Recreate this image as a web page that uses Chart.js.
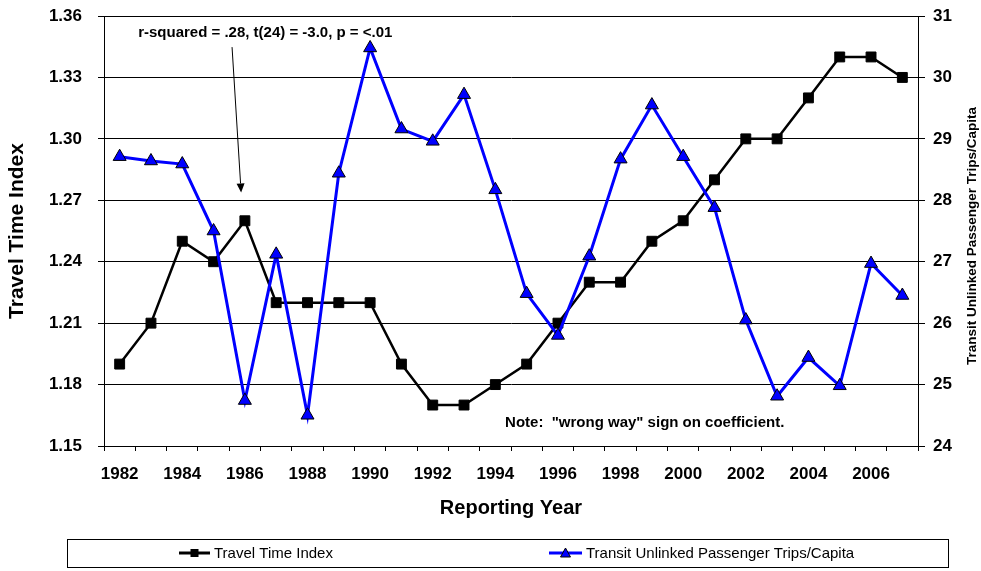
<!DOCTYPE html>
<html>
<head>
<meta charset="utf-8">
<script src="https://cdn.jsdelivr.net/npm/chart.js@4"></script>
<style>
  html, body { margin: 0; padding: 0; background: #fff; }
  #wrap { width: 981px; height: 571px; }
</style>
</head>
<body>
<div id="wrap"><canvas id="chart" width="981" height="571"></canvas></div>
<script>
// --- data ---
const years = [1982, 1983, 1984, 1985, 1986, 1987, 1988, 1989, 1990, 1991, 1992, 1993, 1994,
               1995, 1996, 1997, 1998, 1999, 2000, 2001, 2002, 2003, 2004, 2005, 2006, 2007];
const travelTimeIndex = [1.19, 1.21, 1.25, 1.24, 1.26, 1.22, 1.22, 1.22, 1.22, 1.19, 1.17, 1.17, 1.18,
                         1.19, 1.21, 1.23, 1.23, 1.25, 1.26, 1.28, 1.30, 1.30, 1.32, 1.34, 1.34, 1.33];
const transitTrips = [28.71, 28.64, 28.59, 27.50, 24.74, 27.12, 24.50, 28.44, 30.48, 29.16, 28.96, 29.72, 28.17,
                      26.48, 25.80, 27.09, 28.67, 29.55, 28.71, 27.88, 26.05, 24.81, 25.44, 24.98, 26.97, 26.45];
const leftTicks = [1.15, 1.18, 1.21, 1.24, 1.27, 1.30, 1.33, 1.36];
const rightTicks = [24, 25, 26, 27, 28, 29, 30, 31];

const seriesNames = ['Travel Time Index', 'Transit Unlinked Passenger Trips/Capita'];
const leftTitle = 'Travel Time Index';
const rightTitle = 'Transit Unlinked Passenger Trips/Capita';
const xTitle = 'Reporting Year';
const statText = 'r-squared = .28, t(24) = -3.0, p = <.01';
const noteText = 'Note:  "wrong way" sign on coefficient.';

// --- fonts ---
const FONT = 'Arial, "Liberation Sans", sans-serif';
Chart.defaults.font.family = FONT;
Chart.defaults.color = '#000';

// --- annotations: text + arrow, placed in axis units (x = category index, y = left axis) ---
const notes = {
  stat: { x: 0.59, y: 1.352 },
  arrowFrom: { x: 3.59, y: 1.3448 },
  arrowTo: { x: 3.88, y: 1.2738 },
  note: { x: 12.31, y: 1.1614 }
};

const annotationPlugin = {
  id: 'annotations',
  afterDatasetsDraw(chart) {
    const { ctx, scales: { x, y } } = chart;
    ctx.save();
    ctx.fillStyle = '#000';
    ctx.strokeStyle = '#000';
    ctx.font = 'bold 15px ' + FONT;
    ctx.textBaseline = 'middle';
    ctx.textAlign = 'left';
    ctx.fillText(statText, x.getPixelForValue(notes.stat.x), y.getPixelForValue(notes.stat.y));
    ctx.fillText(noteText, x.getPixelForValue(notes.note.x), y.getPixelForValue(notes.note.y));

    // arrow
    const x0 = x.getPixelForValue(notes.arrowFrom.x), y0 = y.getPixelForValue(notes.arrowFrom.y);
    const x1 = x.getPixelForValue(notes.arrowTo.x), y1 = y.getPixelForValue(notes.arrowTo.y);
    const ang = Math.atan2(y1 - y0, x1 - x0);
    const head = 9, half = 4;
    const bx = x1 - Math.cos(ang) * head, by = y1 - Math.sin(ang) * head;
    ctx.lineWidth = 1;
    ctx.beginPath();
    ctx.moveTo(x0, y0);
    ctx.lineTo(bx, by);
    ctx.stroke();
    ctx.beginPath();
    ctx.moveTo(x1, y1);
    ctx.lineTo(bx + Math.sin(ang) * half, by - Math.cos(ang) * half);
    ctx.lineTo(bx - Math.sin(ang) * half, by + Math.cos(ang) * half);
    ctx.closePath();
    ctx.fill();
    ctx.restore();
  }
};

// --- right axis title reads bottom to top, so draw it by hand ---
const rightTitlePlugin = {
  id: 'rightTitle',
  afterDraw(chart) {
    const { ctx, chartArea } = chart;
    ctx.save();
    ctx.translate(chartArea.right + 54, (chartArea.top + chartArea.bottom) / 2 + 5);
    ctx.rotate(-Math.PI / 2);
    ctx.font = 'bold 13.5px ' + FONT;
    ctx.fillStyle = '#000';
    ctx.textAlign = 'center';
    ctx.textBaseline = 'middle';
    ctx.fillText(rightTitle, 0, 0);
    ctx.restore();
  }
};

// --- boxed legend under the axis title ---
const legendBox = { left: 67, top: 539, width: 881, height: 28 };
const legendItems = [
  { lineFrom: 112, lineTo: 143, textAt: 147 },
  { lineFrom: 482, lineTo: 515, textAt: 519 }
];

const boxLegendPlugin = {
  id: 'boxLegend',
  afterDraw(chart) {
    const { ctx } = chart;
    const b = legendBox;
    ctx.save();
    ctx.strokeStyle = '#000';
    ctx.lineWidth = 1;
    ctx.strokeRect(b.left + 0.5, b.top + 0.5, b.width, b.height);
    const cy = b.top + b.height / 2;
    chart.data.datasets.forEach((ds, i) => {
      const it = legendItems[i];
      const x0 = b.left + it.lineFrom, x1 = b.left + it.lineTo, xm = (x0 + x1) / 2;
      ctx.strokeStyle = ds.borderColor;
      ctx.lineWidth = 3;
      ctx.beginPath();
      ctx.moveTo(x0, cy);
      ctx.lineTo(x1, cy);
      ctx.stroke();
      ctx.fillStyle = ds.pointBackgroundColor;
      ctx.strokeStyle = ds.pointBorderColor;
      ctx.lineWidth = 1;
      if (ds.pointStyle === 'rect') {
        ctx.fillRect(xm - 4, cy - 4, 8, 8);
      } else {
        ctx.beginPath();
        ctx.moveTo(xm, cy - 5);
        ctx.lineTo(xm + 5, cy + 4);
        ctx.lineTo(xm - 5, cy + 4);
        ctx.closePath();
        ctx.fill();
        ctx.stroke();
      }
      ctx.fillStyle = '#000';
      ctx.font = '15px ' + FONT;
      ctx.textAlign = 'left';
      ctx.textBaseline = 'middle';
      ctx.fillText(ds.label, b.left + it.textAt, cy + 1);
    });
    ctx.restore();
  }
};

// y axes: fixed width, and no extra top/bottom reserve for the end labels
function fixYAxis(width) {
  return (s) => {
    s.width = width;
    s.paddingTop = 0;
    s.paddingBottom = 0;
  };
}

// --- chart ---
new Chart(document.getElementById('chart'), {
  type: 'line',
  data: {
    labels: years.map(String),
    datasets: [
      {
        label: seriesNames[0],
        data: travelTimeIndex,
        yAxisID: 'y',
        borderColor: '#000',
        borderWidth: 2.5,
        pointStyle: 'rect',
        pointRadius: 7,
        pointBackgroundColor: '#000',
        pointBorderColor: '#000',
        pointBorderWidth: 1,
        tension: 0,
        order: 1
      },
      {
        label: seriesNames[1],
        data: transitTrips,
        yAxisID: 'y1',
        borderColor: '#0000ff',
        borderWidth: 3,
        pointStyle: 'triangle',
        pointRadius: 7.5,
        pointBackgroundColor: '#0000ff',
        pointBorderColor: '#000',
        pointBorderWidth: 1,
        tension: 0,
        order: 0
      }
    ]
  },
  options: {
    responsive: false,
    animation: false,
    events: [],
    layout: { padding: { top: 16, left: 0, right: 0, bottom: 50 } },
    plugins: { legend: { display: false }, tooltip: { enabled: false } },
    scales: {
      x: {
        type: 'category',
        offset: true,
        grid: { offset: true, drawOnChartArea: false, drawTicks: true, tickLength: 5, color: '#000', tickColor: '#000' },
        border: { display: true, color: '#000', width: 1 },
        ticks: {
          autoSkip: false, maxRotation: 0, minRotation: 0, padding: 13,
          font: { size: 17, weight: 'bold' },
          callback: (v, i) => (years[i] % 2 === 0 ? String(years[i]) : '')
        },
        title: { display: true, text: xTitle, font: { size: 20, weight: 'bold' }, padding: { top: 0, bottom: 1 } },
        afterFit: (s) => { s.height = 75; }
      },
      y: {
        position: 'left',
        min: 1.15, max: 1.36,
        afterBuildTicks: (s) => { s.ticks = leftTicks.map(v => ({ value: v })); },
        grid: { color: '#000', lineWidth: 1, tickLength: 6, tickColor: '#000' },
        border: { display: true, color: '#000', width: 1 },
        ticks: { padding: 16, font: { size: 17, weight: 'bold' }, callback: (v) => Number(v).toFixed(2) },
        title: { display: true, text: leftTitle, font: { size: 21, weight: 'bold' }, padding: { top: 5, bottom: 0 } },
        afterFit: fixYAxis(104)
      },
      y1: {
        position: 'right',
        min: 24, max: 31,
        afterBuildTicks: (s) => { s.ticks = rightTicks.map(v => ({ value: v })); },
        grid: { drawOnChartArea: false, tickLength: 7, color: '#000', tickColor: '#000' },
        border: { display: true, color: '#000', width: 1 },
        ticks: { padding: 8, font: { size: 17, weight: 'bold' }, callback: (v) => String(v) },
        afterFit: fixYAxis(63)
      }
    }
  },
  plugins: [annotationPlugin, rightTitlePlugin, boxLegendPlugin]
});
</script>
</body>
</html>
